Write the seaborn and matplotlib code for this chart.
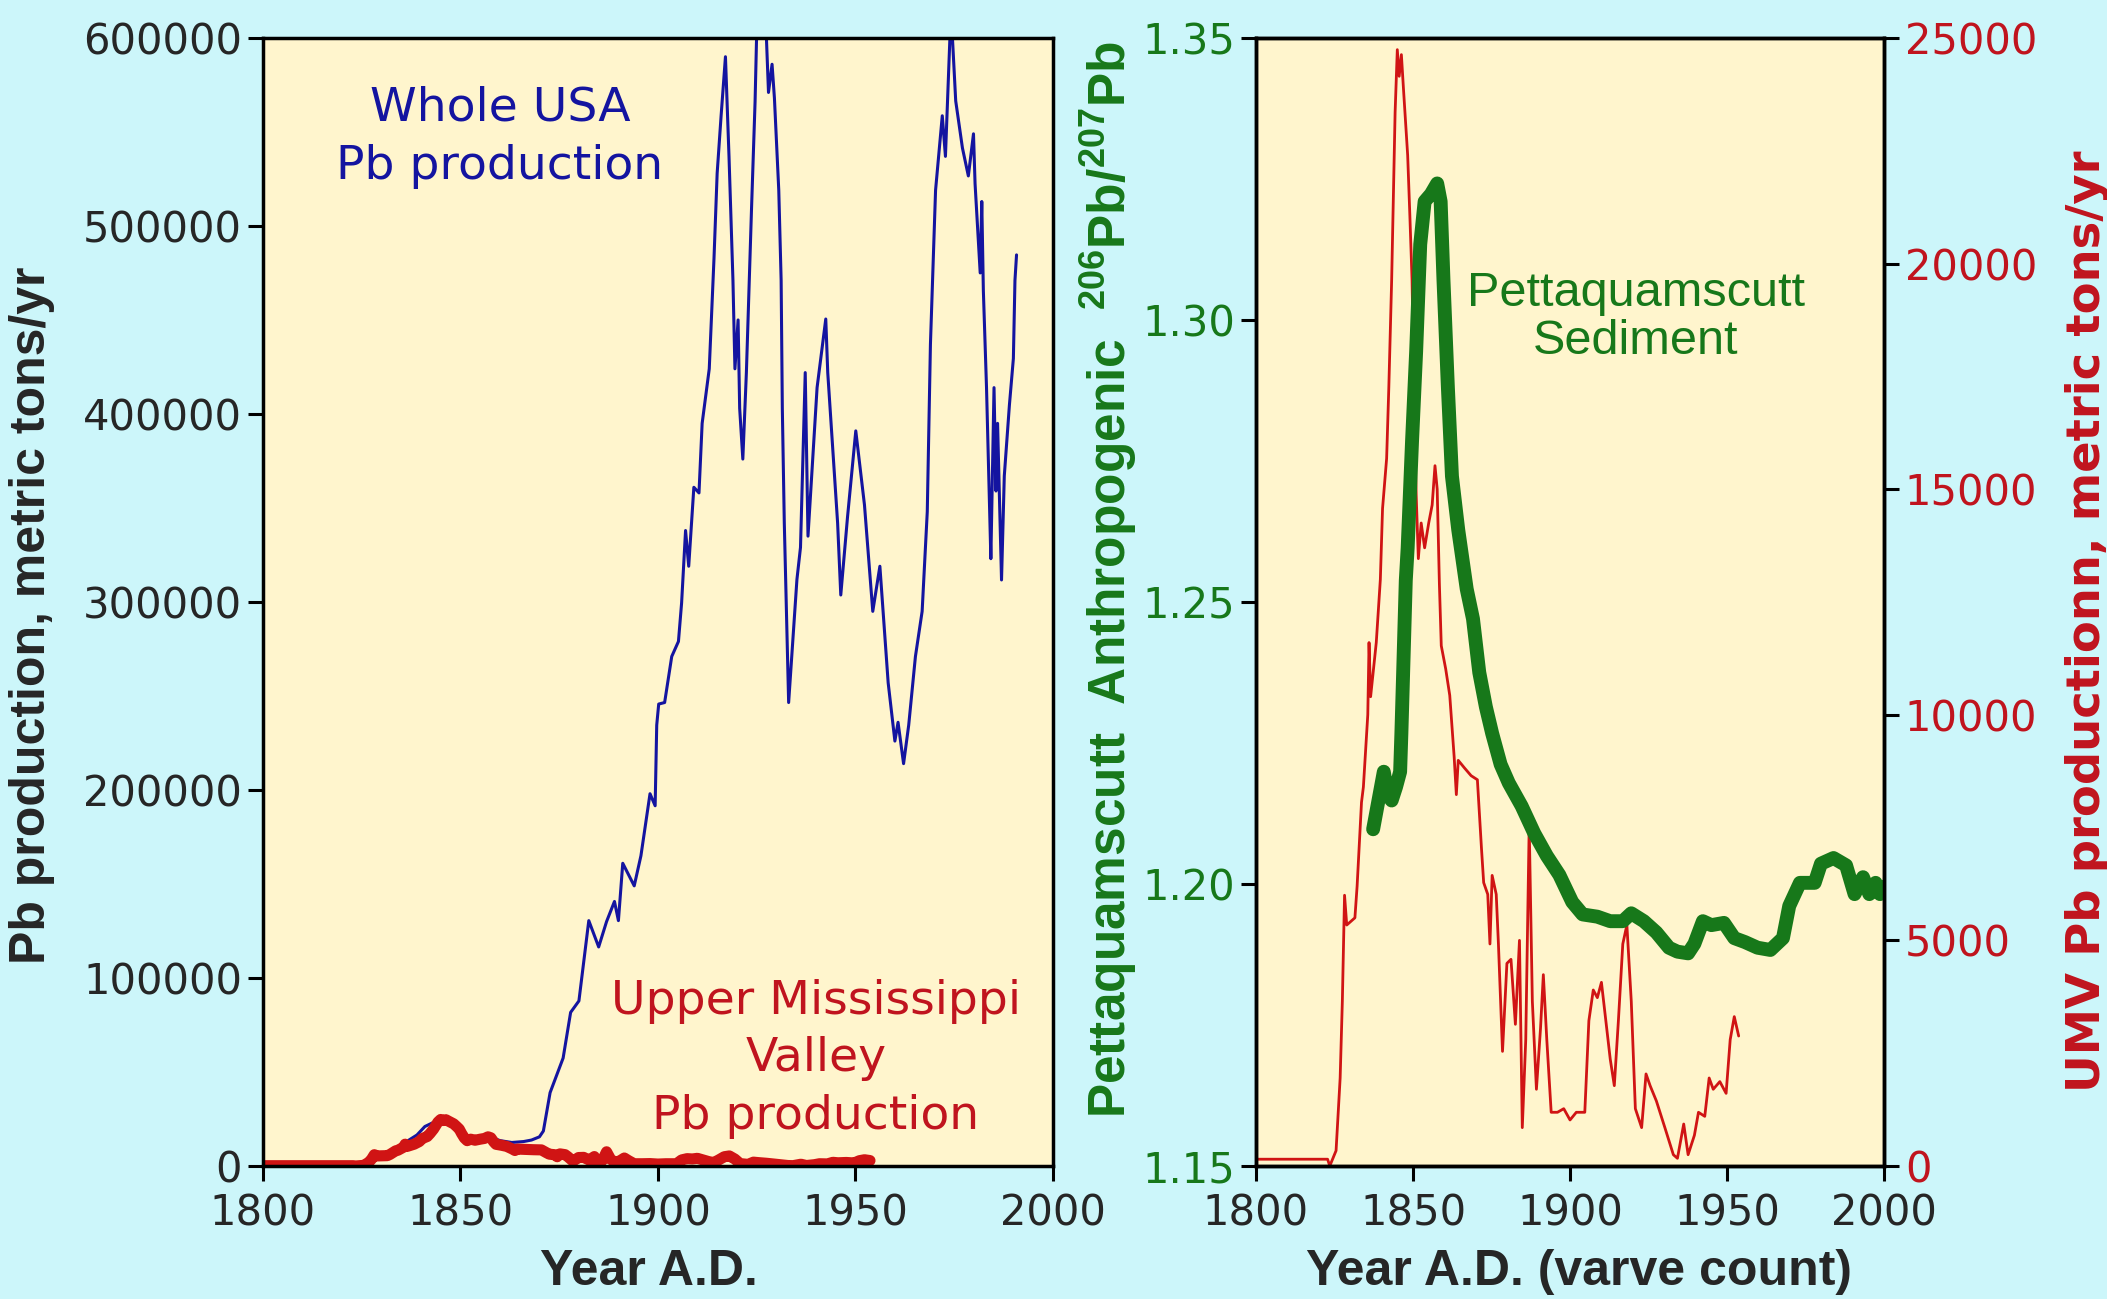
import matplotlib
matplotlib.use("Agg")
import matplotlib.pyplot as plt
import seaborn as sns

# Whole USA Pb production (metric tons/yr)
usa_years = [1800, 1825, 1827, 1830, 1833, 1836, 1839, 1841, 1843, 1846, 1848, 1851, 1854, 1857,
             1860, 1863, 1866, 1868, 1870, 1871, 1872.7, 1876, 1877.9, 1880, 1882.5, 1885, 1887,
             1889, 1890, 1891.1, 1894, 1895.7, 1898, 1899.3, 1899.7, 1900.2, 1901.7, 1903.5, 1905.2,
             1906, 1907, 1907.8, 1909.1, 1910.4, 1911.2, 1913, 1914.2, 1915, 1916, 1917.1, 1918,
             1919, 1919.5, 1920.3, 1920.7, 1921.5, 1922.4, 1923.7, 1924.6, 1925.2, 1927.2, 1928,
             1928.9, 1929.5, 1930.6, 1931.2, 1931.5, 1932, 1933.1, 1935.2, 1936.1, 1937.3, 1938,
             1940.3, 1942.5, 1943, 1945.5, 1946.3, 1948, 1950.1, 1952.3, 1954.4, 1956.2, 1958.3,
             1960, 1960.8, 1962.2, 1963.5, 1965.2, 1966.9, 1968.2, 1969, 1970.3, 1972, 1972.8,
             1974.2, 1975.4, 1977.1, 1978.6, 1979.9, 1980.3, 1981.6, 1982, 1982.4, 1983.2, 1984,
             1984.3, 1985.1, 1985.6, 1986, 1987, 1987.7, 1989, 1990, 1990.4, 1990.8]
usa_tons = [0, 0, 3000, 6000, 8500, 12500, 16500, 21000, 23000, 26000, 22000, 15500, 14500, 16000,
            13500, 12500, 13000, 13800, 15500, 18600, 39000, 57400, 81700, 87800, 130500, 116500, 130000,
            140700, 130500, 161000, 149000, 165000, 198000, 191600, 234500, 245700, 246500, 271000, 279000,
            299500, 338000, 319000, 361000, 358000, 395000, 424000, 482700, 528000, 558600, 590000, 537000,
            471000, 424000, 450000, 403000, 376000, 422000, 509000, 566000, 620000, 615000, 571000,
            586000, 568000, 519000, 471000, 403000, 342000, 246500, 312000, 329000, 422000, 335000,
            414000, 450500, 422000, 342000, 303700, 345000, 391000, 351600, 295000, 319000, 257000,
            226000, 236000, 214000, 234500, 271000, 295000, 348000, 437000, 519000, 558600, 537000,
            615000, 566500, 541500, 526600, 549000, 522500, 475000, 513000, 465600, 414000, 348000,
            323000, 414000, 359000, 395000, 311700, 367000, 404800, 429500, 471000, 484600]

# Upper Mississippi Valley Pb production (metric tons/yr), used in both panels
umv_years = [1800, 1822.8, 1823.5, 1825.5, 1826.8, 1827.5, 1828.2, 1828.9, 1831.5, 1832.2, 1833.6,
             1834.2, 1835.6, 1836, 1836.5, 1838.3, 1839.6, 1840.3, 1841.6, 1842.3, 1843.2, 1844.3,
             1845, 1845.6, 1846.3, 1847, 1848.3, 1849, 1849.7, 1850.3, 1851, 1851.7, 1852.6, 1853.7,
             1855, 1856.1, 1857, 1857.7, 1858.4, 1859, 1860.4, 1861.7, 1863.1, 1863.8, 1864.4,
             1866.4, 1868.5, 1870.5, 1871.8, 1872.5, 1873.8, 1874.5, 1875.2, 1876.5, 1877.2, 1878.5,
             1879.9, 1881.2, 1882.6, 1883.9, 1884.8, 1885.9, 1887, 1888, 1889.3, 1890.6, 1891.5,
             1892.6, 1894, 1896, 1898, 1900, 1902, 1904.7, 1906, 1907.4, 1908.7, 1910, 1911.4,
             1912.8, 1914.1, 1915.4, 1916.8, 1918.1, 1919.5, 1920.8, 1922.8, 1924.2, 1925.5, 1927.5,
             1930.2, 1932.9, 1934.2, 1936.2, 1937.6, 1939.6, 1940.9, 1942.9, 1944.3, 1945.6, 1947.7,
             1949.7, 1951, 1952.3, 1953.7]
umv_tons = [150, 150, 0, 340, 1950, 3650, 6000, 5340, 5500, 6200, 8060,
            8400, 10000, 11600, 10400, 11600, 13000, 14570, 15680, 17260, 19630, 23350,
            24740, 24150, 24630, 23830, 22400, 21060, 19630, 17260, 14890, 13460, 14250, 13700,
            14250, 14650, 15520, 15000, 12900, 11530, 11020, 10430, 9070, 8230, 8990,
            8820, 8650, 8560, 7040, 6280, 6020, 4920, 6440, 6020, 4920, 2540,
            4490, 4580, 3140, 5000, 850, 2800, 7550, 3650, 1700, 3050, 4240,
            2800, 1190, 1190, 1270, 1020, 1190, 1190, 3220, 3900, 3730, 4070, 3220,
            2370, 1780, 3220, 4920, 5340, 3650, 1270, 850, 2040, 1780, 1440,
            850, 250, 170, 930, 250, 680, 1190, 1100, 1950, 1700, 1870,
            1610, 2800, 3310, 2880]

# Pettaquamscutt sediment anthropogenic 206Pb/207Pb
sed_years = [1837.3, 1838.9, 1840.7, 1841.9, 1843.2, 1844.6, 1845.9, 1846.3, 1847, 1847.7, 1848.3,
             1849.7, 1851, 1852.3, 1853.7, 1855.7, 1857.7, 1858.8, 1859.7, 1861.1, 1862.4, 1864.4,
             1867.1, 1869.1, 1871.1, 1873.2, 1875.2, 1877.9, 1880.5, 1884.6, 1888.6, 1892.6, 1896.6,
             1900.7, 1904, 1908.7, 1912.8, 1916.8, 1919.5, 1923.5, 1927.5, 1931.5, 1934.2, 1937.6,
             1939.6, 1942.3, 1945, 1949, 1952.3, 1955.7, 1959.7, 1963.8, 1967.8, 1969.8, 1973.2,
             1977.9, 1979.9, 1983.9, 1987.9, 1990.6, 1993.3, 1995.3, 1997.3, 1998.7, 1999.7]
sed_ratio = [1.2097, 1.2145, 1.2199, 1.2158, 1.2148, 1.2172, 1.2199, 1.2267, 1.2402, 1.2538, 1.2596,
             1.2786, 1.2944, 1.3134, 1.3210, 1.3223, 1.3242, 1.3210, 1.3071, 1.2881, 1.2723, 1.2628,
             1.2523, 1.2470, 1.2375, 1.2314, 1.2267, 1.2212, 1.2179, 1.2138, 1.2090, 1.2050, 1.2016,
             1.1968, 1.1946, 1.1942, 1.1934, 1.1934, 1.1948, 1.1934, 1.1914, 1.1887, 1.1880, 1.1877,
             1.1894, 1.1934, 1.1927, 1.1931, 1.1904, 1.1897, 1.1887, 1.1883, 1.1904, 1.1961, 1.2002,
             1.2002, 1.2036, 1.2046, 1.2033, 1.1982, 1.2012, 1.1982, 1.2002, 1.1982, 1.1995]

year_ticks = [1800, 1850, 1900, 1950, 2000]
usa_ticks = [0, 100000, 200000, 300000, 400000, 500000, 600000]
ratio_ticks = [1.15, 1.20, 1.25, 1.30, 1.35]
umv_ticks = [0, 5000, 10000, 15000, 20000, 25000]

fig_bg = "#CCF6FA"
ax_bg = "#FFF5CD"
blue = "#1414A0"
red = "#D01414"
red_txt = "#C0141E"
green = "#17781A"

sns.set_style("ticks")
plt.rcParams["font.family"] = ["Liberation Sans", "DejaVu Sans"]
plt.rcParams["mathtext.fontset"] = "custom"
plt.rcParams["mathtext.rm"] = "Liberation Sans"
plt.rcParams["mathtext.default"] = "regular"

fig = plt.figure(figsize=(21.07, 12.99), dpi=100, facecolor=fig_bg)
ax1 = fig.add_axes([0.1248, 0.1024, 0.3749, 0.8684])
ax2 = fig.add_axes([0.5961, 0.1024, 0.2981, 0.8684])
ax3 = ax2.twinx()

tick_kw = dict(direction="out", length=11, width=2.2, labelsize=30, pad=4, color="black")


def style_ticks(a):
    a.tick_params(**tick_kw)
    a.tick_params(axis="x", pad=8)
    for lab in a.get_xticklabels() + a.get_yticklabels():
        lab.set_family("DejaVu Sans")
    for s in a.spines.values():
        s.set_visible(True)
        s.set_linewidth(2.5)
        s.set_color("black")


# ---- left panel
ax1.set_facecolor(ax_bg)
sns.lineplot(x=usa_years, y=usa_tons, ax=ax1, color=blue, linewidth=2.2, estimator=None, sort=False)
sns.lineplot(x=umv_years, y=umv_tons, ax=ax1, color=red, linewidth=8, estimator=None, sort=False)
ax1.set_xlim(1800, 2000)
ax1.set_ylim(0, 600000)
ax1.set_xticks(year_ticks)
ax1.set_yticks(usa_ticks)
ax1.set_yticklabels([str(v) for v in usa_ticks])
style_ticks(ax1)
ax1.set_xlabel("Year A.D.", fontsize=36, fontweight="bold")
ax1.set_ylabel("Pb production, metric tons/yr", fontsize=36, fontweight="bold")
ax1.xaxis.set_label_coords(0.489, -0.074)
ax1.yaxis.set_label_coords(-0.263, 0.488)
ax1.text(1860, 547000, "Whole USA\nPb production", color=blue, fontsize=34,
         family="DejaVu Sans", ha="center", va="center", linespacing=1.38)
ax1.text(1940, 57000, "Upper Mississippi\nValley\nPb production", color=red_txt, fontsize=34,
         family="DejaVu Sans", ha="center", va="center", linespacing=1.36)

# ---- right panel
ax3.set_facecolor(ax_bg)
ax3.patch.set_visible(True)
ax2.patch.set_visible(False)
ax2.set_zorder(ax3.get_zorder() + 1)
sns.lineplot(x=umv_years, y=umv_tons, ax=ax3, color=red, linewidth=2.0, estimator=None, sort=False)
sns.lineplot(x=sed_years, y=sed_ratio, ax=ax2, color=green, linewidth=10, estimator=None, sort=False)
ax2.set_xlim(1800, 2000)
ax2.set_ylim(1.15, 1.35)
ax3.set_ylim(0, 25000)
ax2.set_xticks(year_ticks)
ax2.set_yticks(ratio_ticks)
ax2.set_yticklabels([f"{v:.2f}" for v in ratio_ticks])
ax3.set_yticks(umv_ticks)
ax3.set_yticklabels([str(v) for v in umv_ticks])
style_ticks(ax2)
style_ticks(ax3)
ax2.tick_params(axis="y", labelcolor=green)
ax3.tick_params(axis="y", labelcolor=red_txt)
ax2.set_xlabel("Year A.D. (varve count)", fontsize=36, fontweight="bold")
ax2.xaxis.set_label_coords(0.514, -0.074)
ax2.set_ylabel("Pettaquamscutt  Anthropogenic  $^{206}$Pb/$^{207}$Pb", fontsize=37,
               fontweight="bold", color=green)
ax2.yaxis.set_label_coords(-0.186, 0.52)
ax3.set_ylabel("UMV Pb productionn, metric tons/yr", fontsize=33.5, fontweight="bold",
               color=red_txt, family="DejaVu Sans")
ax3.yaxis.set_label_coords(1.288, 0.483)
ax2.text(1921, 1.3004, "Pettaquamscutt\nSediment", color=green, fontsize=35,
         ha="center", va="center", linespacing=1.1)

fig.savefig("out.png", dpi=100, facecolor=fig_bg)
